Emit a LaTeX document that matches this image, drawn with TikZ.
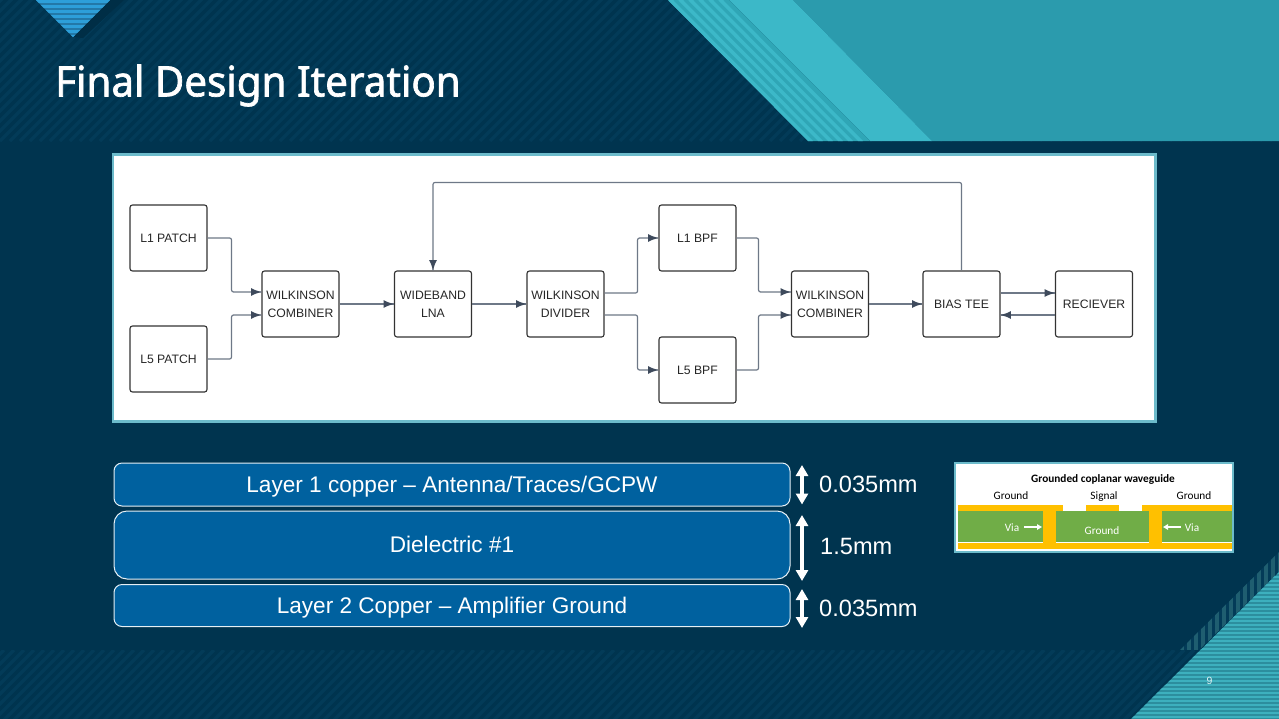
\documentclass[tikz,border=0pt]{standalone}
\usepackage{fontspec}
\setmainfont{Liberation Sans}
\newfontfamily\naslovfont{Noto Sans}[FakeBold=1.6,FakeStretch=0.96]
\newfontfamily\malifont{Carlito}
\usepackage{tikz}
\usetikzlibrary{arrows,arrows.meta,decorations.markings}
\definecolor{tamna}{HTML}{00344F}
\definecolor{crtice}{HTML}{033B58}
\definecolor{tirkiz}{HTML}{2B9BAD}
\definecolor{tirkiz2}{HTML}{2FA6B6}
\definecolor{svijetli}{HTML}{3CB8C8}
\definecolor{okvir}{HTML}{6CBBCB}
\definecolor{plava}{HTML}{00619F}
\definecolor{bakar}{HTML}{FFC000}
\definecolor{zelena}{HTML}{70AD47}
\definecolor{linija}{HTML}{6E7887}
\definecolor{vrh}{HTML}{3E4A5C}
\definecolor{trokutA}{HTML}{2379A8}
\definecolor{trokutB}{HTML}{2D9FD9}
\definecolor{pojasA}{HTML}{2C8E9E}
\definecolor{pojasB}{HTML}{3DB0BE}
\definecolor{pojasC}{HTML}{1F5E70}
\tikzset{strelica/.style={decoration={markings,mark=at position 1 with %
    {\arrow[scale=1.6,>=latex,color=vrh]{>}}},postaction={decorate}}}
\tikzset{veza/.style={draw=linija, line width=1.2pt, rounded corners=2pt, strelica}}
\tikzset{blok/.style={draw=black!80, fill=white, line width=1.1pt, rounded corners=2.5pt,
    minimum width=77pt, minimum height=66pt, inner sep=0pt, align=center, text=black!85,
    font=\fontsize{12.2}{18}\selectfont}}
\tikzset{sloj/.style={draw=white!90!plava, fill=plava, line width=1pt, minimum width=676pt,
    inner sep=0pt, text=white, text height=18pt, text depth=3pt, font=\fontsize{22.6}{26}\selectfont}}
\tikzset{debljina/.style={text=white, anchor=west, inner sep=0pt, font=\fontsize{23.6}{26}\selectfont}}
\tikzset{dvostruka/.style={white, line width=3.4pt,
    {Triangle[length=11pt,width=12pt]}-{Triangle[length=11pt,width=12pt]}}}
\tikzset{mali/.style={inner sep=0pt, anchor=base, font=\malifont\fontsize{11.3}{12}\selectfont}}
\tikzset{malastrelica/.style={white, line width=1.3pt, -{Triangle[length=5pt,width=5.5pt]}}}
\begin{document}
\begin{tikzpicture}[x=1pt, y=-1pt]
    \useasboundingbox (0, 0) rectangle (1279, 718);
    %podloga
    \fill[tamna] (-3, -3) rectangle (1282, 724);
    \begin{scope}
        \clip (-3, -3) rectangle (1282, 141);
        \foreach \i in {-15, ..., 128}
            \draw[crtice, line width=3.5pt] (10*\i, 141) -- (10*\i + 146, -5);
    \end{scope}
    \begin{scope}
        \clip (-3, 650) rectangle (1282, 724);
        \foreach \i in {-8, ..., 128}
            \draw[crtice, line width=3.5pt] (10*\i, 724) -- (10*\i + 74, 650);
    \end{scope}

    %gore desno
    \fill[tirkiz] (793, 0) -- (1282, 0) -- (1282, 141) -- (932, 141) -- cycle;
    \fill[svijetli] (729, 0) -- (793, 0) -- (932, 141) -- (870, 141) -- cycle;
    \fill[tirkiz2] (668, 0) -- (729, 0) -- (870, 141) -- (808, 141) -- cycle;
    \foreach \i in {0, ..., 5}
        \fill[svijetli] (668 + 10*\i, 0) -- (673 + 10*\i, 0) -- (813 + 10*\i, 141)
            -- (808 + 10*\i, 141) -- cycle;

    %trokut gore lijevo
    \fill[black!12!tamna] (110, 0) -- (124, 0) -- (83, 38) -- (73, 37) -- cycle;
    \begin{scope}
        \clip (36, 0) -- (110, 0) -- (73, 37) -- cycle;
        \fill[trokutA] (36, 0) rectangle (110, 37);
        \foreach \i in {0, ..., 7}
            \fill[trokutB] (36, 5*\i) rectangle (110, 5*\i + 3);
    \end{scope}

    %dolje desno
    \begin{scope}
        \clip (1180, 650) -- (1279, 552) -- (1279, 572) -- (1199, 650) -- cycle;
        \fill[crtice] (1180, 552) rectangle (1279, 650);
        \foreach \i in {0, ..., 14}
            \fill[pojasC] (1180 + 7*\i, 552) rectangle (1183.5 + 7*\i, 650);
    \end{scope}
    \begin{scope}
        \clip (1132, 718) -- (1279, 572) -- (1282, 572) -- (1282, 724) -- (1126, 724) -- cycle;
        \fill[pojasA] (1120, 572) rectangle (1282, 724);
        \foreach \i in {0, ..., 37}
            \fill[pojasB] (1120, 572 + 4*\i) rectangle (1282, 572 + 4*\i + 2);
    \end{scope}
    \node[text=white!85!tirkiz, inner sep=0pt, font=\fontsize{10.5}{12}\selectfont] (broj) at (1209.5, 681) {9};

    %naslov
    \node[anchor=west, inner sep=0pt, text=white, font=\naslovfont\fontsize{42}{48}\selectfont]
        (naslov) at (55, 85.5) {Final Design Iteration};

    %okvir
    \draw[draw=okvir, fill=white, line width=2.5pt] (113, 154.5) rectangle (1155.5, 421.5);

    %blokovi
    \node[blok] (l1patch) at (168.5, 238) {L1 PATCH};
    \node[blok] (l5patch) at (168.5, 359) {L5 PATCH};
    \node[blok] (kombinator1) at (300.5, 304) {WILKINSON\\COMBINER};
    \node[blok] (lna) at (433, 304) {WIDEBAND\\LNA};
    \node[blok] (djelitelj) at (565.5, 304) {WILKINSON\\DIVIDER};
    \node[blok] (l1bpf) at (697.5, 238) {L1 BPF};
    \node[blok] (l5bpf) at (697.5, 370) {L5 BPF};
    \node[blok] (kombinator2) at (830, 304) {WILKINSON\\COMBINER};
    \node[blok] (biastee) at (961.5, 304) {BIAS TEE};
    \node[blok] (prijemnik) at (1094, 304) {RECIEVER};

    %veze
    \draw[veza] (l1patch.east) -- ++(24, 0) |- ([yshift=12pt]kombinator1.west);
    \draw[veza] (l5patch.east) -- ++(24, 0) |- ([yshift=-11pt]kombinator1.west);
    \draw[veza] (kombinator1.east) -- (lna.west);
    \draw[veza] (lna.east) -- (djelitelj.west);
    \draw[veza] ([yshift=11pt]djelitelj.east) -- ++(33, 0) |- (l1bpf.west);
    \draw[veza] ([yshift=-11pt]djelitelj.east) -- ++(33, 0) |- (l5bpf.west);
    \draw[veza] (l1bpf.east) -- ++(22, 0) |- ([yshift=12pt]kombinator2.west);
    \draw[veza] (l5bpf.east) -- ++(22, 0) |- ([yshift=-11pt]kombinator2.west);
    \draw[veza] (kombinator2.east) -- (biastee.west);
    \draw[veza] ([yshift=11pt]biastee.east) -- ([yshift=11pt]prijemnik.west);
    \draw[veza] ([yshift=-11pt]prijemnik.west) -- ([yshift=-11pt]biastee.east);
    \draw[veza] (biastee.north) -- ++(0, -88) -| (lna.north);

    %slojevi
    \node[sloj, minimum height=43pt, rounded corners=8pt] (sloj1) at (452, 484.5)
        {Layer 1 copper -- Antenna/Traces/GCPW};
    \node[sloj, minimum height=68pt, rounded corners=13pt] (sloj2) at (452, 545)
        {\raisebox{0.5pt}{Dielectric \#1}};
    \node[sloj, minimum height=42pt, rounded corners=8pt] (sloj3) at (452, 605.5)
        {Layer 2 Copper -- Amplifier Ground};

    %debljine
    \coordinate (d1g) at (802, 465);
    \coordinate (d1d) at (802, 504.5);
    \coordinate (d2g) at (802, 515);
    \coordinate (d2d) at (802, 581);
    \coordinate (d3g) at (802, 589);
    \coordinate (d3d) at (802, 628);
    \draw[dvostruka] (d1g) -- (d1d);
    \draw[dvostruka] (d2g) -- (d2d);
    \draw[dvostruka] (d3g) -- (d3d);
    \node[debljina] (t1) at (819, 484) {0.035mm};
    \node[debljina] (t2) at (820, 546) {1.5mm};
    \node[debljina] (t3) at (819, 608) {0.035mm};

    %valovod
    \draw[draw=okvir, fill=white, line width=2.5pt] (955, 463.2) rectangle (1232.8, 552);
    \fill[zelena] (958, 511) rectangle (1231.5, 542);
    \fill[bakar] (958, 505) rectangle (1063, 511);
    \fill[bakar] (1086, 505) rectangle (1119, 511);
    \fill[bakar] (1142, 505) rectangle (1231.5, 511);
    \fill[bakar] (958, 542.5) rectangle (1231.5, 549);
    \fill[bakar] (1043, 511) rectangle (1056, 542.5);
    \fill[bakar] (1149, 511) rectangle (1162, 542.5);
    \node[mali, font=\malifont\bfseries\fontsize{11.3}{12}\selectfont] (vnaslov) at (1103, 482) {Grounded coplanar waveguide};
    \node[mali] (vg1) at (1011, 499) {Ground};
    \node[mali] (vs) at (1104, 499) {Signal};
    \node[mali] (vg2) at (1194, 499) {Ground};
    \node[mali, text=white] (vv1) at (1012, 531) {Via};
    \node[mali, text=white] (vv2) at (1192, 531) {Via};
    \node[mali, text=white] (vg3) at (1102, 534) {Ground};
    \coordinate (vk1) at (1042, 527);
    \coordinate (vk2) at (1163, 527);
    \coordinate (vp1) at (1024, 527);
    \coordinate (vp2) at (1181, 527);
    \draw[malastrelica] (vp1) -- (vk1);
    \draw[malastrelica] (vp2) -- (vk2);
\end{tikzpicture}
\end{document}
